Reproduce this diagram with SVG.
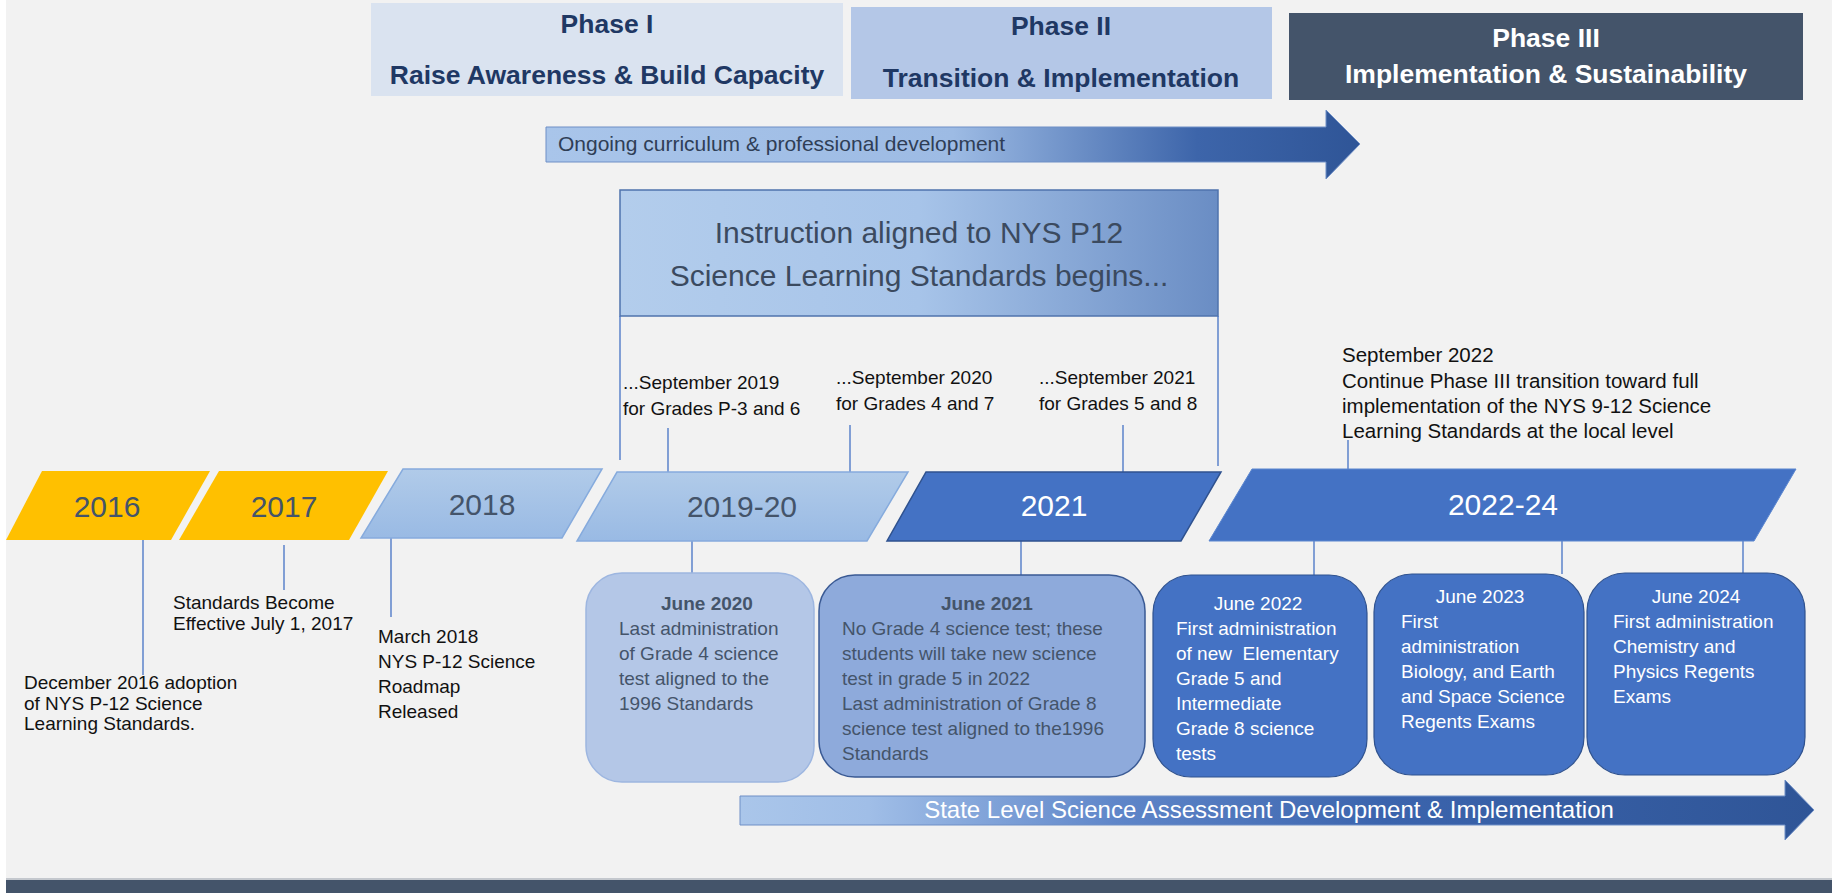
<svg xmlns="http://www.w3.org/2000/svg" width="1836" height="893" viewBox="0 0 1836 893">
<defs>
<style>
text{font-family:"Liberation Sans",Arial,sans-serif}
.ph{font-weight:bold;font-size:26.5px;text-anchor:middle;fill:#1f3864}
.yr{font-size:30px;text-anchor:middle}
.yd{fill:#44546a}
.yw{fill:#ffffff}
.lbl{font-size:19px;fill:#111111}
.bx{font-size:19px}
.bl{fill:#44546a}
.wh{fill:#ffffff}
.hd{font-weight:bold;text-anchor:middle}
.conn line{stroke:#4472c4;stroke-width:1.3}
</style>
<linearGradient id="gOngoing" x1="0" y1="0" x2="1" y2="0">
<stop offset="0" stop-color="#a9c5ea"/>
<stop offset="0.5" stop-color="#9dbbe4"/>
<stop offset="0.8" stop-color="#3d65aa"/>
<stop offset="1" stop-color="#2f5597"/>
</linearGradient>
<linearGradient id="gState" x1="0" y1="0" x2="1" y2="0">
<stop offset="0" stop-color="#aac6ea"/>
<stop offset="0.12" stop-color="#a0bee7"/>
<stop offset="0.35" stop-color="#5f86c9"/>
<stop offset="0.6" stop-color="#3b64ad"/>
<stop offset="1" stop-color="#2f5597"/>
</linearGradient>
<linearGradient id="gInstr" x1="0" y1="0" x2="1" y2="0">
<stop offset="0" stop-color="#b3cdec"/>
<stop offset="0.5" stop-color="#a7c4e9"/>
<stop offset="1" stop-color="#6a8dc4"/>
</linearGradient>
<linearGradient id="gLight" x1="0" y1="0" x2="0" y2="1">
<stop offset="0" stop-color="#b1cbe9"/>
<stop offset="1" stop-color="#99bae4"/>
</linearGradient>
</defs>

<g id="background">
<rect x="0" y="0" width="1836" height="893" fill="#ffffff"/>
<rect x="6" y="0" width="1826" height="880" fill="#f2f2f2"/>
<rect x="6" y="878" width="1826" height="2" fill="#c4c8ce"/>
<rect x="6" y="880" width="1826" height="13" fill="#44546a"/>
</g>

<g id="phase1">
<rect x="371" y="3" width="472" height="93" fill="#dae3f0"/>
<text class="ph" x="607" y="33">Phase I</text>
<text class="ph" x="607" y="84">Raise Awareness &amp; Build Capacity</text>
</g>
<g id="phase2">
<rect x="851" y="7" width="421" height="92" fill="#b4c7e7"/>
<text class="ph" x="1061" y="35">Phase II</text>
<text class="ph" x="1061" y="87">Transition &amp; Implementation</text>
</g>
<g id="phase3">
<rect x="1289" y="13" width="514" height="87" fill="#44546a"/>
<text class="ph" x="1546" y="47" style="fill:#ffffff">Phase III</text>
<text class="ph" x="1546" y="83" style="fill:#ffffff">Implementation &amp; Sustainability</text>
</g>

<g id="ongoing-arrow">
<path d="M546,127 H1326 V110 L1360,144 L1326,179 V162 H546 Z" fill="url(#gOngoing)" stroke="#6f8fc6" stroke-width="1"/>
<text x="558" y="151" font-size="21" fill="#2f3e56">Ongoing curriculum &amp; professional development</text>
</g>

<g id="instruction">
<rect x="620" y="190" width="598" height="126" fill="url(#gInstr)" stroke="#4f73ad" stroke-width="1.5"/>
<text x="919" y="243" font-size="30" text-anchor="middle" fill="#3b4a5f">Instruction aligned to NYS P12</text>
<text x="919" y="286" font-size="30" text-anchor="middle" fill="#3b4a5f">Science Learning Standards begins...</text>
</g>

<g id="connectors" class="conn">
<line x1="620" y1="316" x2="620" y2="460"/>
<line x1="1218" y1="316" x2="1218" y2="466"/>
<line x1="668" y1="428" x2="668" y2="472"/>
<line x1="850" y1="425" x2="850" y2="472"/>
<line x1="1123" y1="425" x2="1123" y2="472"/>
<line x1="1348" y1="440" x2="1348" y2="469"/>
<line x1="143" y1="540" x2="143" y2="675"/>
<line x1="284" y1="545" x2="284" y2="590"/>
<line x1="391" y1="538" x2="391" y2="617"/>
<line x1="692" y1="541" x2="692" y2="573"/>
<line x1="1021" y1="541" x2="1021" y2="575"/>
<line x1="1314" y1="541" x2="1314" y2="575"/>
<line x1="1562" y1="541" x2="1562" y2="574"/>
<line x1="1743" y1="541" x2="1743" y2="573"/>
</g>

<g id="sept2019">
<text class="lbl" x="623" y="389">...September 2019</text>
<text class="lbl" x="623" y="415">for Grades P-3 and 6</text>
</g>
<g id="sept2020">
<text class="lbl" x="836" y="384">...September 2020</text>
<text class="lbl" x="836" y="410">for Grades 4 and 7</text>
</g>
<g id="sept2021">
<text class="lbl" x="1039" y="384">...September 2021</text>
<text class="lbl" x="1039" y="410">for Grades 5 and 8</text>
</g>
<g id="sept2022">
<text x="1342" y="362" font-size="20.5" fill="#111111">September 2022</text>
<text x="1342" y="388" font-size="20.5" fill="#111111">Continue Phase III transition toward full</text>
<text x="1342" y="413" font-size="20.5" fill="#111111">implementation of the NYS 9-12 Science</text>
<text x="1342" y="438" font-size="20.5" fill="#111111">Learning Standards at the local level</text>
</g>

<g id="y2016">
<polygon points="42,471 210,471 171,540 6,540" fill="#ffc000"/>
<text class="yr yd" x="107" y="517">2016</text>
</g>
<g id="y2017">
<polygon points="219,471 388,471 349,540 179,540" fill="#ffc000"/>
<text class="yr yd" x="284" y="517">2017</text>
</g>
<g id="y2018">
<polygon points="403,469 602,469 562,538 361,538" fill="url(#gLight)" stroke="#86abdd" stroke-width="1.5"/>
<text class="yr yd" x="482" y="515">2018</text>
</g>
<g id="y2019-20">
<polygon points="617,472 908,472 867,541 577,541" fill="url(#gLight)" stroke="#86abdd" stroke-width="1.5"/>
<text class="yr yd" x="742" y="517">2019-20</text>
</g>
<g id="y2021">
<polygon points="926,472 1221,472 1181,541 887,541" fill="#4472c4" stroke="#2f528f" stroke-width="1.5"/>
<text class="yr yw" x="1054" y="516">2021</text>
</g>
<g id="y2022-24">
<polygon points="1252,469 1796,469 1754,541 1209,541" fill="#4472c4" stroke="#5b86cf" stroke-width="1"/>
<text class="yr yw" x="1503" y="515">2022-24</text>
</g>

<g id="note2016">
<text class="lbl" x="24" y="689">December 2016 adoption</text>
<text class="lbl" x="24" y="710">of NYS P-12 Science</text>
<text class="lbl" x="24" y="730">Learning Standards.</text>
</g>
<g id="note2017">
<text class="lbl" x="173" y="609">Standards Become</text>
<text class="lbl" x="173" y="630">Effective July 1, 2017</text>
</g>
<g id="note2018">
<text class="lbl" x="378" y="643">March 2018</text>
<text class="lbl" x="378" y="668">NYS P-12 Science</text>
<text class="lbl" x="378" y="693">Roadmap</text>
<text class="lbl" x="378" y="718">Released</text>
</g>

<g id="june2020">
<rect x="586" y="573" width="228" height="209" rx="36" fill="#b4c7e7" stroke="#9db6e0" stroke-width="1.5"/>
<text class="bx bl hd" x="707" y="610">June 2020</text>
<text class="bx bl" x="619" y="635">Last administration</text>
<text class="bx bl" x="619" y="660">of Grade 4 science</text>
<text class="bx bl" x="619" y="685">test aligned to the</text>
<text class="bx bl" x="619" y="710">1996 Standards</text>
</g>
<g id="june2021">
<rect x="819" y="575" width="326" height="202" rx="36" fill="#8eaadb" stroke="#3a5a94" stroke-width="1.5"/>
<text class="bx bl hd" x="987" y="610">June 2021</text>
<text class="bx bl" x="842" y="635">No Grade 4 science test; these</text>
<text class="bx bl" x="842" y="660">students will take new science</text>
<text class="bx bl" x="842" y="685">test in grade 5 in 2022</text>
<text class="bx bl" x="842" y="710">Last administration of Grade 8</text>
<text class="bx bl" x="842" y="735">science test aligned to the1996</text>
<text class="bx bl" x="842" y="760">Standards</text>
</g>
<g id="june2022">
<rect x="1153" y="575" width="214" height="202" rx="38" fill="#4472c4" stroke="#2f528f" stroke-width="1.2"/>
<text class="bx wh" x="1258" y="610" text-anchor="middle">June 2022</text>
<text class="bx wh" x="1176" y="635">First administration</text>
<text class="bx wh" x="1176" y="660" xml:space="preserve">of new  Elementary</text>
<text class="bx wh" x="1176" y="685">Grade 5 and</text>
<text class="bx wh" x="1176" y="710">Intermediate</text>
<text class="bx wh" x="1176" y="735">Grade 8 science</text>
<text class="bx wh" x="1176" y="760">tests</text>
</g>
<g id="june2023">
<rect x="1374" y="574" width="210" height="201" rx="38" fill="#4472c4" stroke="#2f528f" stroke-width="1.2"/>
<text class="bx wh" x="1480" y="603" text-anchor="middle">June 2023</text>
<text class="bx wh" x="1401" y="628">First</text>
<text class="bx wh" x="1401" y="653">administration</text>
<text class="bx wh" x="1401" y="678">Biology, and Earth</text>
<text class="bx wh" x="1401" y="703">and Space Science</text>
<text class="bx wh" x="1401" y="728">Regents Exams</text>
</g>
<g id="june2024">
<rect x="1587" y="573" width="218" height="202" rx="38" fill="#4472c4" stroke="#2f528f" stroke-width="1.2"/>
<text class="bx wh" x="1696" y="603" text-anchor="middle">June 2024</text>
<text class="bx wh" x="1613" y="628">First administration</text>
<text class="bx wh" x="1613" y="653">Chemistry and</text>
<text class="bx wh" x="1613" y="678">Physics Regents</text>
<text class="bx wh" x="1613" y="703">Exams</text>
</g>

<g id="state-arrow">
<path d="M740,796 H1785 V780 L1814,810 L1785,840 V825 H740 Z" fill="url(#gState)" stroke="#6f8fc6" stroke-width="1"/>
<text x="1269" y="818" font-size="24" text-anchor="middle" fill="#ffffff">State Level Science Assessment Development &amp; Implementation</text>
</g>
</svg>
